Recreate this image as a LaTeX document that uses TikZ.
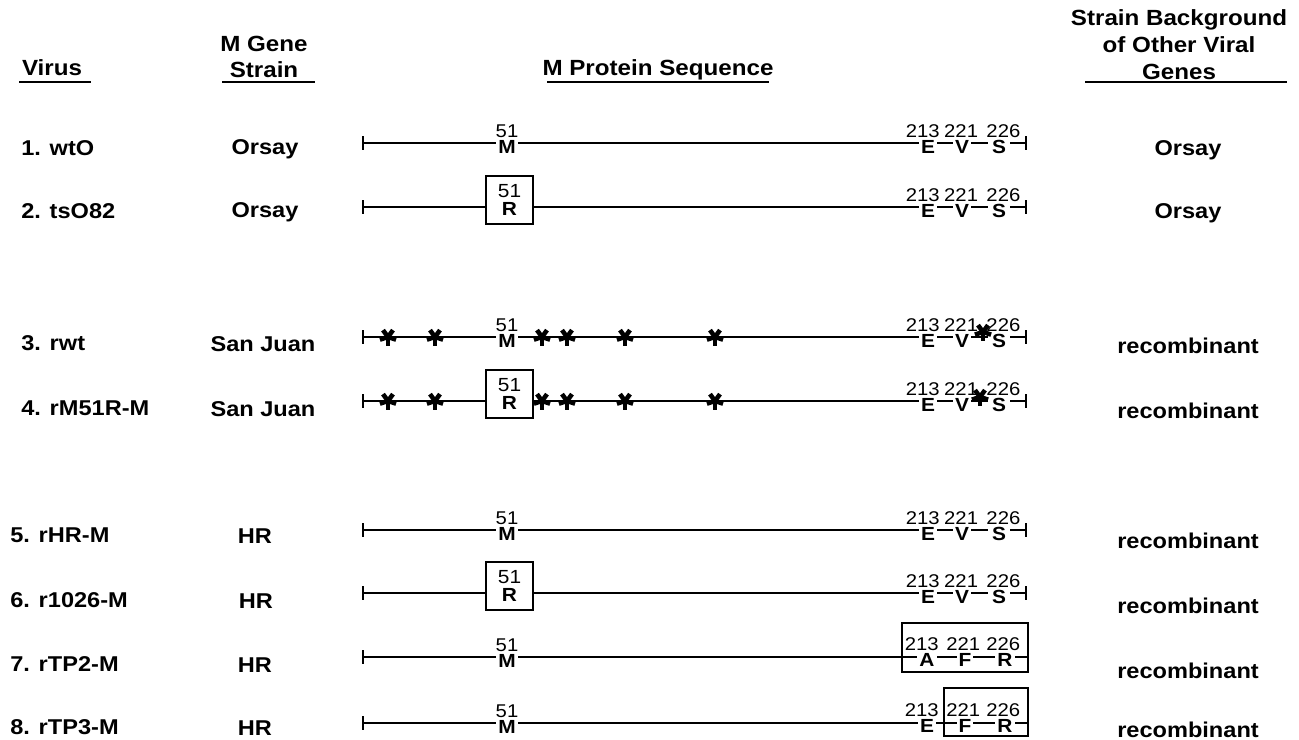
\documentclass[tikz,border=0pt]{standalone}
\usepackage{fontspec}
\setmainfont{Liberation Sans}[FakeStretch=1.1]
\usetikzlibrary{arrows.meta}

\tikzset{
  head/.style={font=\fontsize{12.5}{15.3}\selectfont\bfseries, align=center, inner sep=0},
  lab/.style={font=\fontsize{12.2}{14}\selectfont\bfseries, inner sep=0},
  num/.style={font=\fontsize{10.5}{12}\selectfont, inner sep=0},
  aa/.style={font=\fontsize{10.8}{13}\selectfont\bfseries, fill=white, inner sep=1.2pt,
    label distance=1.6pt},
  seq/.style={line width=1.15pt, {Bar[width=7.5pt]}-{Bar[width=7.5pt]}},
  seqopen/.style={line width=1.15pt, {Bar[width=7.5pt]}-},
  rbox/.style={draw, line width=1.15pt, fill=white, align=center,
    minimum width=26.6pt, minimum height=27.6pt, inner sep=0,
    font=\fontsize{10.8}{10}\selectfont},
  cbox/.style={draw, line width=1.15pt, minimum height=27.6pt, inner sep=0},
  uline/.style={line width=0.8pt},
  mut/.pic={
    \foreach \a in {90,162,234,306,378}
      \draw[line width=2.6pt] (0,0) -- (\a:8.5);
  }
}

\begin{document}
\begin{tikzpicture}[x=0.02cm, y=-0.02cm]
\useasboundingbox (0,0) rectangle (1299,740);

% Column headings
\node[head] (hvirus) at (52,68) {Virus};
\node[head] (hgene) at (264,57) {M Gene\\Strain};
\node[head] (hseq) at (658,70) {M Protein Sequence};
\node[head] (hbg) at (1179,45) {Strain Background\\of Other Viral\\Genes};

% Heading rules
\draw[uline] (19,82) -- (91,82);
\draw[uline] (222,82) -- (315,82);
\draw[uline] (547,82) -- (769,82);
\draw[uline] (1085,82) -- (1287,82);

% Virus names
\foreach \n/\y/\x/\txt in {1/148/21/{1. wtO}, 2/211/21/{2. tsO82},
    3/343/21/{3. rwt}, 4/408/21/{4. rM51R-M}, 5/535/10/{5. rHR-M},
    6/600/10/{6. r1026-M}, 7/664/10/{7. rTP2-M}, 8/727/10/{8. rTP3-M}}
  \node[lab, anchor=west] (virus\n) at (\x,\y) {\txt};

% M gene strain
\foreach \n/\y/\x/\txt in {1/149/265/Orsay, 2/212/265/Orsay,
    3/344/263/San Juan, 4/409/263/San Juan, 5/536/255/HR,
    6/601/256/HR, 7/665/255/HR, 8/728/255/HR}
  \node[lab] (gene\n) at (\x,\y) {\txt};

% Background of the other genes
\foreach \n/\y/\txt in {1/150/Orsay, 2/213/Orsay, 3/346/recombinant,
    4/411/recombinant, 5/541/recombinant, 6/606/recombinant,
    7/671/recombinant, 8/730/recombinant}
  \node[lab] (bg\n) at (1188,\y) {\txt};

% Protein backbones
\foreach \n/\y in {1/143,2/207,3/337,4/401,5/530,6/593,7/657,8/723}{
  \coordinate (nterm\n) at (362,\y);
  \coordinate (cterm\n) at (1027,\y);
}
\foreach \n in {1,...,6}
  \draw[seq] (nterm\n) -- (cterm\n);
\foreach \n in {7,8}
  \draw[seqopen] (nterm\n) -- (cterm\n);

% Residue 51
\foreach \n/\y in {1/143,3/337,5/530,7/657,8/723}
  \node[aa, label={[num]above:51}] (res51m\n) at (507,\y+4) {M};
\foreach \n/\y in {2/207,4/401,6/593}
  \node[rbox] (res51r\n) at (509.5,\y-7) {51\\\textbf{R}};

% Residues 213, 221, 226
\foreach \n/\y in {1/143,2/207,3/337,4/401,5/530,6/593}{
  \node[aa, label={[num, xshift=-3pt]above:213}] (e\n) at (928,\y+4) {E};
  \node[aa, label={[num, xshift=-0.5pt]above:221}] (v\n) at (962,\y+4) {V};
  \node[aa, inner xsep=2.5pt, label={[num, xshift=2.5pt]above:226}] (s\n) at (999,\y+4) {S};
}

% Changed C-terminal residues, boxed
\node[cbox, minimum width=71.4pt] (box7) at (965,647.5) {};
\node[aa, label={[num, xshift=-3pt]above:213}] (a7) at (927,660) {A};
\node[aa, label={[num, xshift=-1pt]above:221}] (f7) at (965,660) {F};
\node[aa, label={[num, xshift=-1pt]above:226}] (r7) at (1005,660) {R};

\node[cbox, minimum width=47.6pt] (box8) at (986,712) {};
\node[aa, label={[num, xshift=-3pt]above:213}] (e8) at (927,726) {E};
\node[aa, label={[num, xshift=-1pt]above:221}] (f8) at (965,726) {F};
\node[aa, label={[num, xshift=-1pt]above:226}] (r8) at (1005,726) {R};

% San Juan differences
\foreach \x in {388,435,542,567,625,715}{
  \pic at (\x,337) {mut};
  \pic at (\x,401) {mut};
}
\pic at (983,332) {mut};
\pic at (980,397) {mut};

\end{tikzpicture}
\end{document}
